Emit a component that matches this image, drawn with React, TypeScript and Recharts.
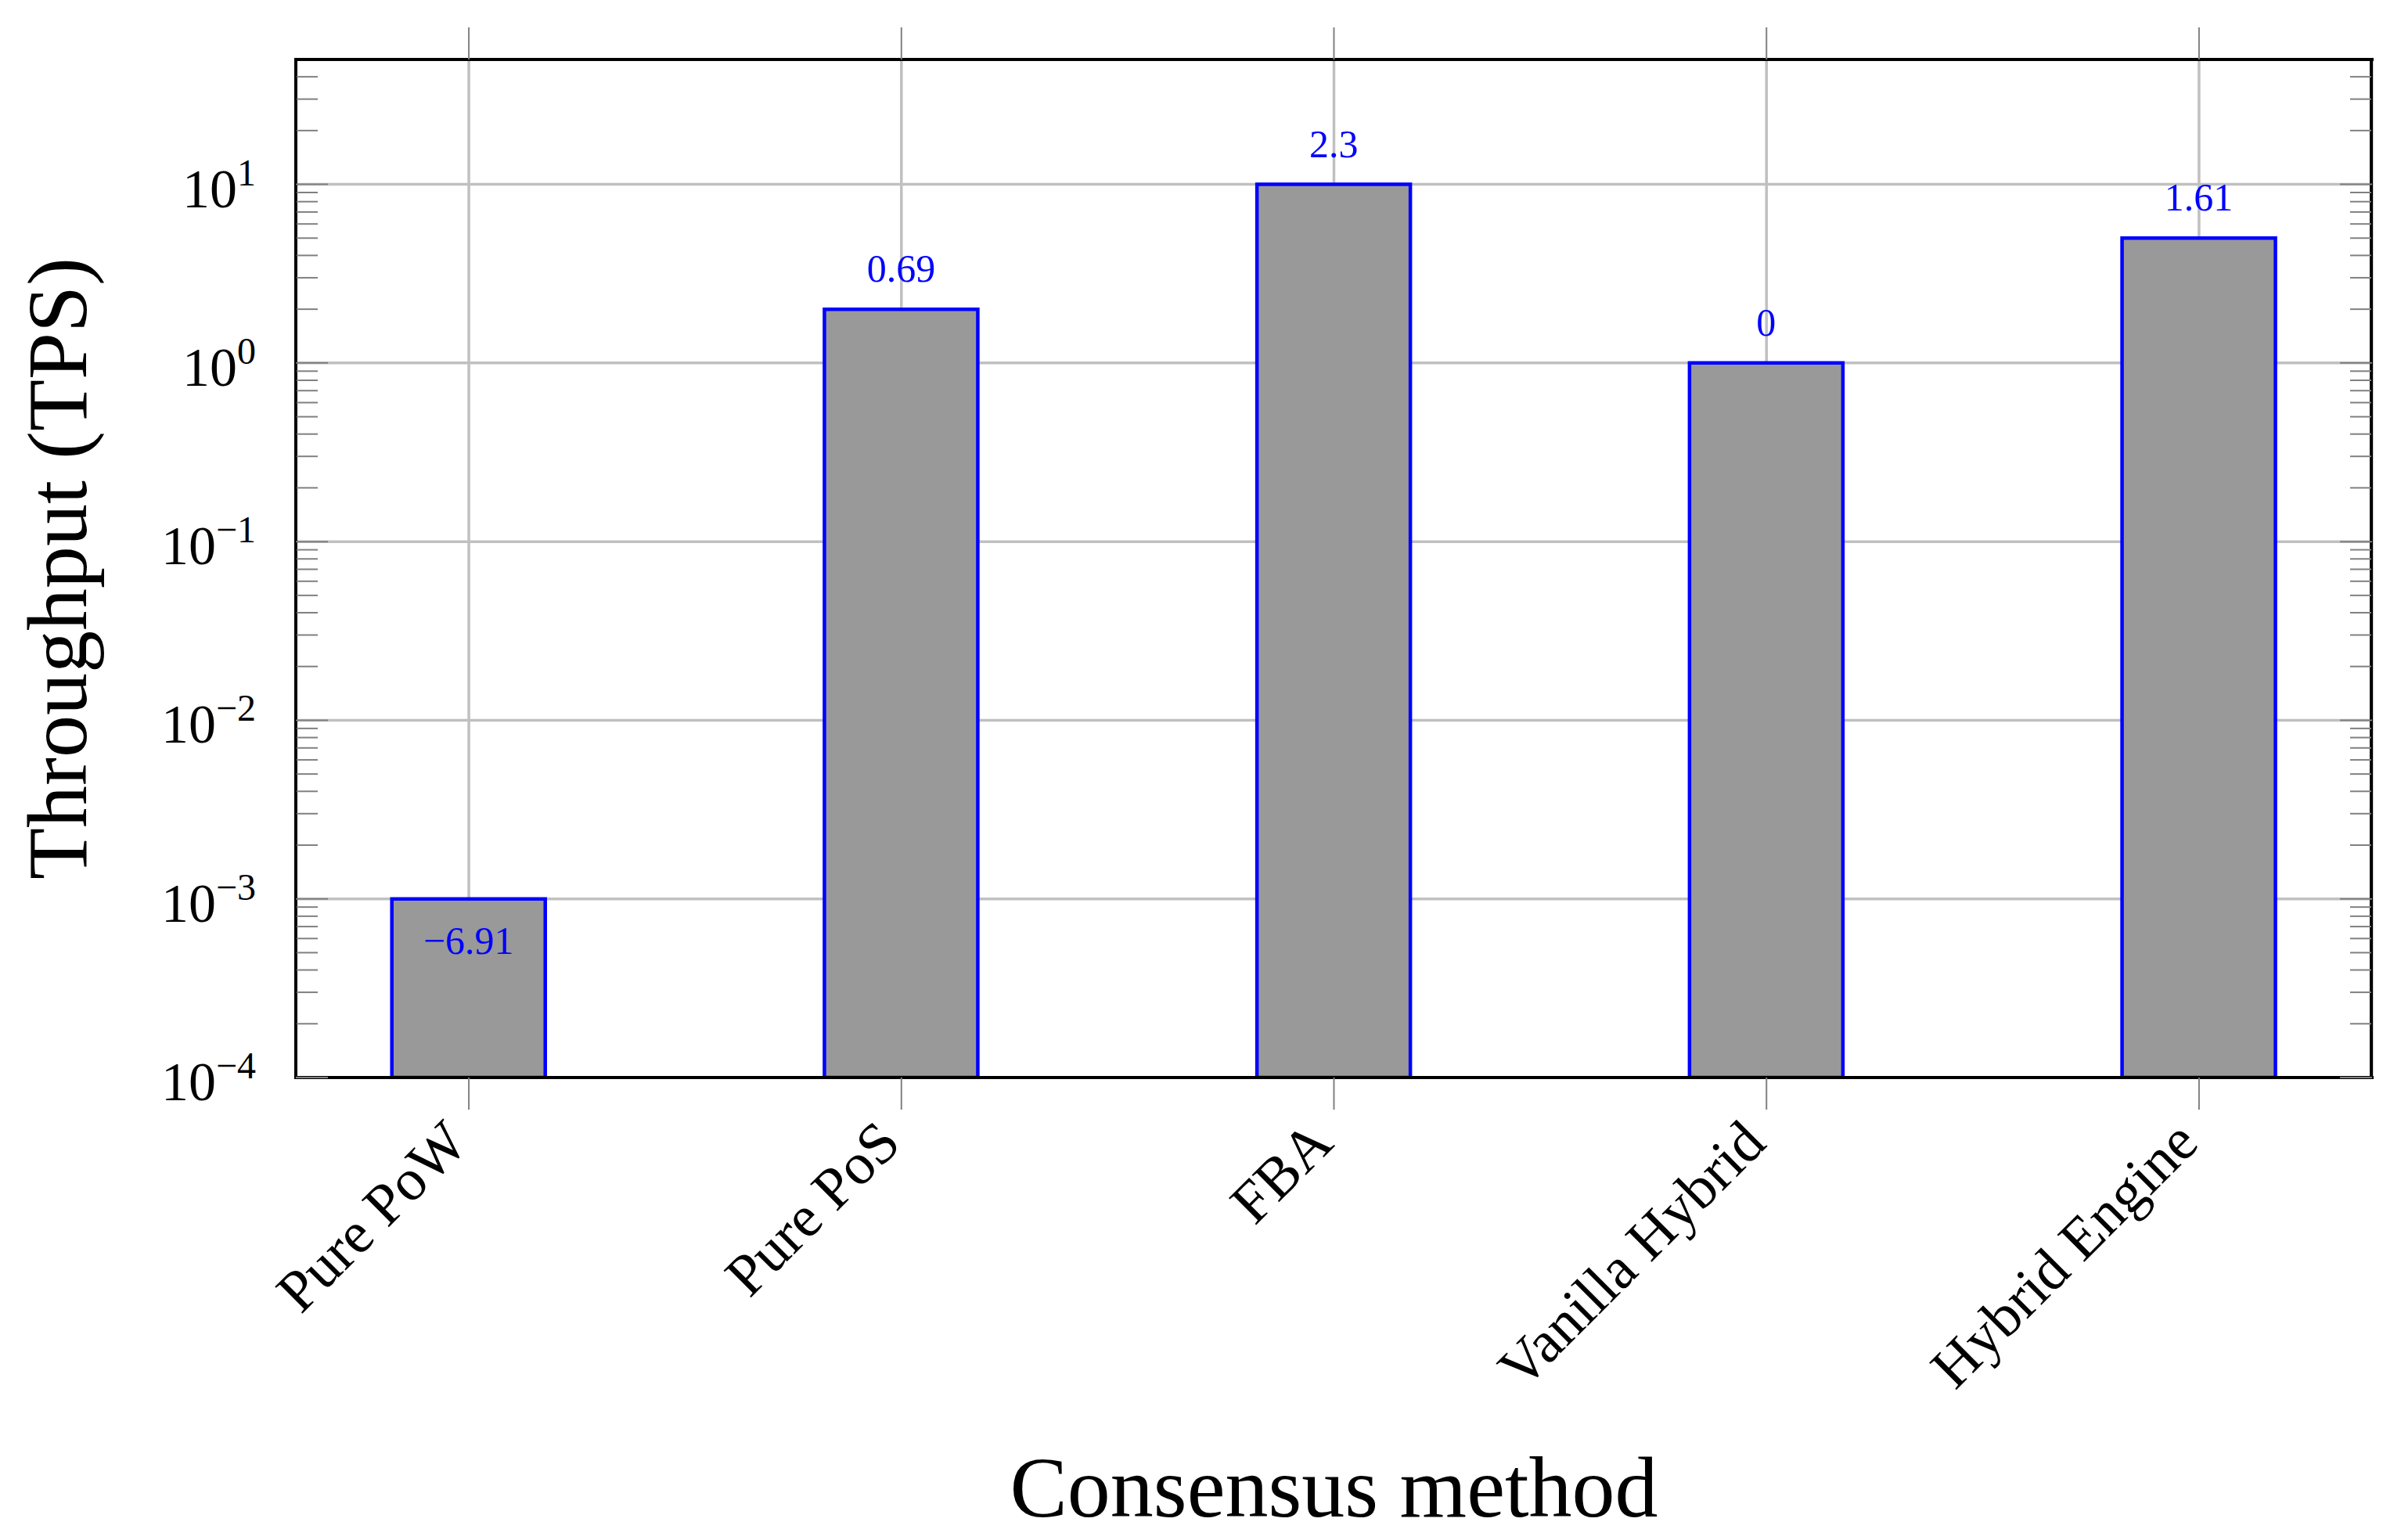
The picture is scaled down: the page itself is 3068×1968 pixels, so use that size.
import React from 'react';
import { BarChart, Bar, XAxis, YAxis, CartesianGrid, LabelList, Label } from 'recharts';

const categories = ['Pure PoW', 'Pure PoS', 'FBA', 'Vanilla Hybrid', 'Hybrid Engine'];
const categoryIndex = [0, 1, 2, 3, 4];
const throughput = [0.001, 2, 10, 1, 5];
const lnLabels = ['\u22126.91', '0.69', '2.3', '0', '1.61'];
const majorTicks = [1e-4, 1e-3, 1e-2, 1e-1, 1, 10];
const majorExponents = ['\u22124', '\u22123', '\u22122', '\u22121', '0', '1'];
const minorTicks = [
  2e-4, 3e-4, 4e-4, 5e-4, 6e-4, 7e-4, 8e-4, 9e-4,
  2e-3, 3e-3, 4e-3, 5e-3, 6e-3, 7e-3, 8e-3, 9e-3,
  2e-2, 3e-2, 4e-2, 5e-2, 6e-2, 7e-2, 8e-2, 9e-2,
  0.2, 0.3, 0.4, 0.5, 0.6, 0.7, 0.8, 0.9,
  2, 3, 4, 5, 6, 7, 8, 9,
  20, 30, 40,
];
const yDomain = [1e-4, 50];
const xDomain = [-0.4, 4.4];

const data = categories.map((name, i) => ({
  x: categoryIndex[i],
  name,
  v: throughput[i],
  lbl: lnLabels[i],
}));

const FONT = "'Liberation Serif', 'Times New Roman', serif";
const GRID = '#c0c0c0';
const TICK = '#808080';

const frameLine = { stroke: '#000', strokeWidth: 4, strokeLinecap: 'square' as const };
const tickLineStyle = { stroke: TICK, strokeWidth: 2 };

const EmptyTick = () => <g />;

const YTick = (props: any) => {
  const { x, y, payload } = props;
  const idx = majorTicks.findIndex((t) => Math.abs(t - payload.value) / t < 1e-6);
  const exp = idx >= 0 ? majorExponents[idx] : '';
  return (
    <text x={x - 43} y={y + 29} textAnchor="end" fontFamily={FONT} fill="#000">
      <tspan fontSize={70}>10</tspan>
      <tspan fontSize={48} dy={-28}>{exp}</tspan>
    </text>
  );
};

const XTick = (props: any) => {
  const { x, y, payload } = props;
  const label = categories[Math.round(payload.value)] ?? '';
  const ax = x - 16;
  const ay = y + 28;
  return (
    <text
      x={ax}
      y={ay}
      textAnchor="end"
      dominantBaseline="central"
      transform={`rotate(-45 ${ax} ${ay})`}
      fontFamily={FONT}
      fontSize={75}
      fill="#000"
    >
      {label}
    </text>
  );
};

const BarLabel = (props: any) => {
  const vb = props.viewBox || {};
  const x = props.x ?? vb.x;
  const y = props.y ?? vb.y;
  const width = props.width ?? vb.width;
  const value = String(props.value);
  const neg = value.startsWith('\u2212');
  return (
    <text
      x={x + width / 2}
      y={neg ? y + 70 : y - 35}
      textAnchor="middle"
      fill="#0000ff"
      fontFamily={FONT}
      fontSize={50}
    >
      {value}
    </text>
  );
};

const YTitle = (props: any) => {
  const vb = props.viewBox;
  const bx = vb.x - 68;
  const cy = vb.y + vb.height / 2;
  return (
    <text
      x={bx}
      y={cy}
      transform={`rotate(-90 ${bx} ${cy})`}
      textAnchor="middle"
      fontFamily={FONT}
      fontSize={108}
      fill="#000"
    >
      Throughput (TPS)
    </text>
  );
};

const XTitle = (props: any) => {
  const vb = props.viewBox;
  return (
    <text
      x={vb.x + vb.width / 2}
      y={1938}
      textAnchor="middle"
      fontFamily={FONT}
      fontSize={110}
      fill="#000"
    >
      Consensus method
    </text>
  );
};

export default function App() {
  return (
    <div style={{ position: 'absolute', left: 0, top: 0, width: 3068, height: 1968, background: '#fff' }}>
      <BarChart
        width={3068}
        height={1968}
        data={data}
        margin={{ top: 35, right: 37, bottom: 491, left: 178 }}
      >
        <CartesianGrid
          xAxisId="bottom"
          yAxisId="y"
          stroke={GRID}
          strokeWidth={3.5}
        />
        <XAxis
          xAxisId="top"
          orientation="top"
          type="number"
          dataKey="x"
          domain={xDomain}
          ticks={categoryIndex}
          interval={0}
          allowDataOverflow
          height={41}
          tickSize={41}
          tick={EmptyTick}
          tickLine={tickLineStyle}
          axisLine={frameLine}
        />
        <XAxis
          xAxisId="bottom"
          orientation="bottom"
          type="number"
          dataKey="x"
          domain={xDomain}
          ticks={categoryIndex}
          interval={0}
          allowDataOverflow
          height={100}
          tickSize={41}
          tickMargin={0}
          tick={<XTick />}
          tickLine={tickLineStyle}
          axisLine={frameLine}
        >
          <Label content={<XTitle />} />
        </XAxis>
        <YAxis
          yAxisId="y"
          orientation="left"
          scale="log"
          type="number"
          domain={yDomain}
          allowDataOverflow
          ticks={majorTicks}
          interval={0}
          width={200}
          tickLine={false}
          tick={<YTick />}
          axisLine={frameLine}
        >
          <Label content={<YTitle />} />
        </YAxis>
        <YAxis
          yAxisId="minL"
          orientation="left"
          mirror
          scale="log"
          type="number"
          domain={yDomain}
          allowDataOverflow
          ticks={minorTicks}
          interval={0}
          width={1}
          tickSize={27}
          tick={EmptyTick}
          tickLine={tickLineStyle}
          axisLine={false}
        />
        <YAxis
          yAxisId="majL"
          orientation="left"
          mirror
          scale="log"
          type="number"
          domain={yDomain}
          allowDataOverflow
          ticks={majorTicks}
          interval={0}
          width={1}
          tickSize={41}
          tick={EmptyTick}
          tickLine={tickLineStyle}
          axisLine={false}
        />
        <YAxis
          yAxisId="minR"
          orientation="right"
          mirror
          scale="log"
          type="number"
          domain={yDomain}
          allowDataOverflow
          ticks={minorTicks}
          interval={0}
          width={1}
          tickSize={27}
          tick={EmptyTick}
          tickLine={tickLineStyle}
          axisLine={frameLine}
        />
        <YAxis
          yAxisId="majR"
          orientation="right"
          mirror
          scale="log"
          type="number"
          domain={yDomain}
          allowDataOverflow
          ticks={majorTicks}
          interval={0}
          width={1}
          tickSize={41}
          tick={EmptyTick}
          tickLine={tickLineStyle}
          axisLine={false}
        />
        <Bar
          xAxisId="bottom"
          yAxisId="y"
          dataKey="v"
          barSize={196}
          fill="#999999"
          stroke="#0000ff"
          strokeWidth={4.5}
          isAnimationActive={false}
        >
          <LabelList dataKey="lbl" content={<BarLabel />} />
        </Bar>
      </BarChart>
    </div>
  );
}
